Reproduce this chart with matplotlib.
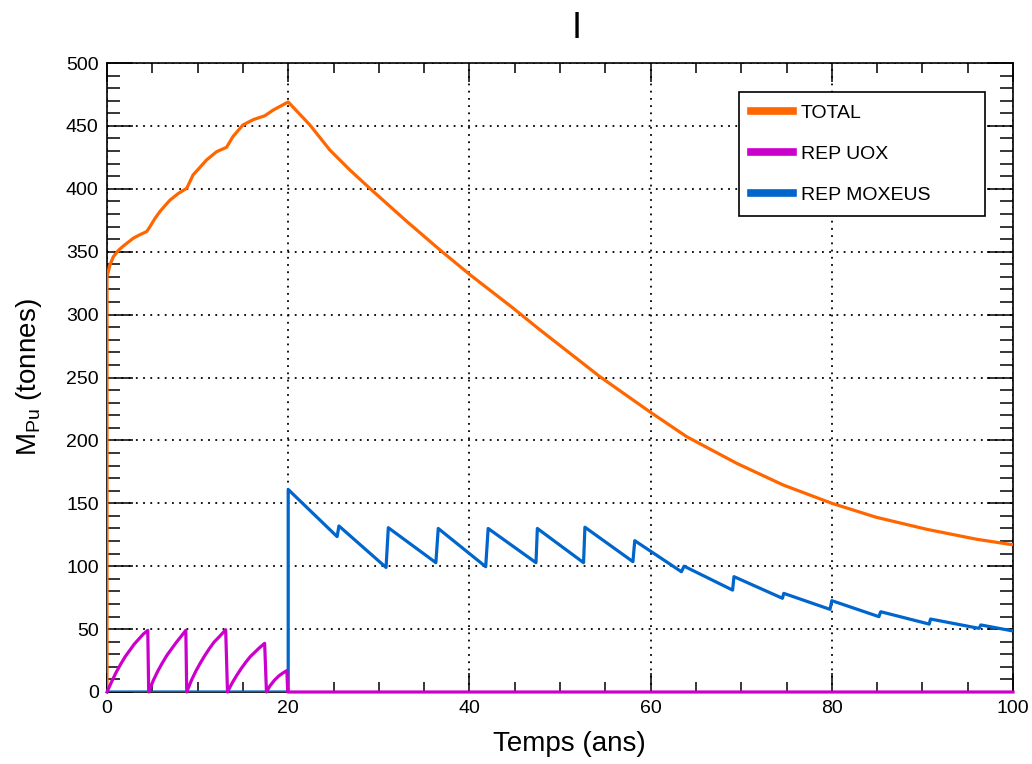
import matplotlib
matplotlib.use("Agg")
import matplotlib.pyplot as plt
from matplotlib.ticker import MultipleLocator
from matplotlib.lines import Line2D

# ---- data ----
total_t = [0, 0, 0.33, 0.7, 1.25, 1.8, 2.9, 3.6, 4.38, 4.75, 5.3, 5.85, 6.4, 6.95, 7.87, 8.8,
           9.5, 11.0, 12.1, 13.2, 13.9, 15.0, 16.15, 17.4, 18.35, 20.0, 22.4, 24.6, 26.8,
           29.0, 33.1, 36.75, 40.1, 44.85, 47.8, 54.4, 59.9, 63.97, 69.5, 74.65, 80.0,
           84.9, 90.5, 96.0, 100]
total_m = [0, 330, 339.5, 346, 351, 354.5, 360.7, 363.4, 366, 370, 376.5, 382, 386.6, 391,
           396.3, 400.4, 411, 423, 429.5, 433, 441.5, 450.7, 455, 458, 462.6, 469, 450.7,
           430.8, 415, 400.4, 374, 351.4, 331.5, 305, 287.8, 250.7, 222.8, 203, 181.8,
           164.5, 150, 138.9, 129.3, 121.4, 117]

uox_t = [0, 0.5, 1, 1.5, 2, 2.5, 3, 3.5, 4, 4.5,
         4.6, 5.1, 5.6, 6.1, 6.6, 7.1, 7.6, 8.1, 8.7,
         8.8, 9.3, 9.8, 10.3, 10.8, 11.3, 11.8, 12.4, 13.1,
         13.3, 13.8, 14.3, 14.8, 15.3, 15.8, 16.3, 16.8, 17.4,
         17.6, 18.0, 18.5, 19.0, 19.5, 19.85, 19.95, 100]
uox_m = [0, 8, 15.5, 22, 28, 33, 38, 42, 46, 49,
         0, 9, 16.5, 23, 29, 34, 39, 43.5, 49,
         0, 9, 16.5, 23, 29, 34.5, 39.5, 44, 49.5,
         0, 7, 13, 18.5, 23.5, 28, 31.5, 35, 38.7,
         0, 5, 9.5, 13, 15.5, 17, 0, 0]

mox_t = [0, 20.0, 20.0, 25.4, 25.6, 30.8, 31.05, 36.3, 36.56, 41.8, 42.07, 47.35, 47.5,
         52.6, 52.75, 58.05, 58.25, 63.4, 63.7, 69.05, 69.2, 74.55, 74.7, 79.8, 80.0,
         85.2, 85.4, 90.75, 90.9, 96.25, 96.45, 100]
mox_m = [0, 0, 161, 123.5, 132, 99, 130.6, 102.8, 130, 99.6, 130, 102.8, 130,
         102.8, 131, 103.6, 120.3, 95.6, 100, 81, 91.7, 74.5, 78.4, 65.7, 72.6,
         59.9, 63.8, 54, 58, 50.6, 53.3, 48.5]

labels = ["TOTAL", "REP UOX", "REP MOXEUS"]
colors = ["#FF6600", "#CC00CC", "#0066CC"]

plt.rcParams['font.family'] = ['Liberation Sans', 'DejaVu Sans']

fig = plt.figure(figsize=(10.32, 7.64), dpi=100)
ax = fig.add_axes([107/1032, 1-692/764, 906/1032, 629/764])

lw = 2.3
ax.plot(total_t, total_m, color=colors[0], lw=lw, zorder=3)
ax.plot(mox_t, mox_m, color=colors[2], lw=lw, zorder=4)
ax.plot(uox_t, uox_m, color=colors[1], lw=lw, zorder=5, clip_on=False)

ax.set_xlim(0, 100)
ax.set_ylim(0, 500)
ax.xaxis.set_major_locator(MultipleLocator(20))
ax.xaxis.set_minor_locator(MultipleLocator(5))
ax.yaxis.set_major_locator(MultipleLocator(50))
ax.yaxis.set_minor_locator(MultipleLocator(10))
ax.grid(True, which='major', color='black', linestyle=(0, (1, 3)), linewidth=1.3)
ax.tick_params(which='both', direction='in', top=True, right=True, labelsize=14, width=1.1)
ax.tick_params(axis='x', which='major', length=14, pad=6)
ax.tick_params(axis='x', which='minor', length=7)
ax.tick_params(axis='y', which='major', length=19, pad=6)
ax.tick_params(axis='y', which='minor', length=9.5)
for s in ax.spines.values():
    s.set_linewidth(1.2)

ax.set_xlabel("Temps (ans)", fontsize=20)
ax.xaxis.set_label_coords((569.5-107)/906, (692-731)/629)
ax.set_ylabel(r"$\mathregular{M_{Pu}}$ (tonnes)", fontsize=20)
ax.yaxis.set_label_coords((44-107)/906, 0.5)

fig.text(577/1032, 1-28/764, "I", fontsize=26, ha='center', va='center')

handles = [Line2D([], [], color=c, lw=5.5) for c in colors]
leg = ax.legend(handles, labels, loc='upper left',
                bbox_to_anchor=((739-107)/906, (692-210)/629, 246/906, 118/629),
                mode='expand', fontsize=14, frameon=True, fancybox=False,
                edgecolor='black', framealpha=1, handlelength=2.15, handletextpad=0.4,
                labelspacing=1.2, borderpad=0.62, borderaxespad=0)
leg.get_frame().set_linewidth(1.2)
leg.set_zorder(10)

fig.savefig("out.png", dpi=100)
